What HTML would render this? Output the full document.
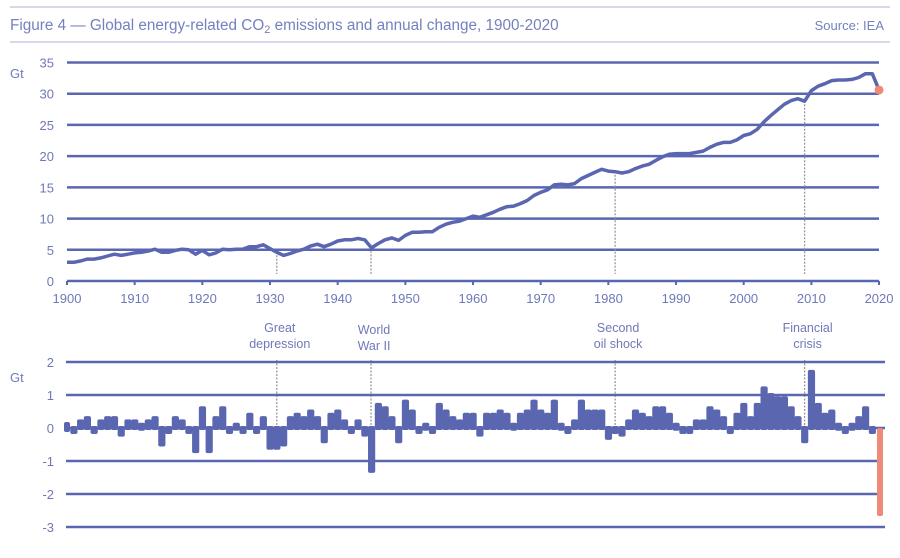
<!DOCTYPE html>
<html><head><meta charset="utf-8"><style>
body{margin:0;background:#fff;width:900px;height:553px;overflow:hidden;font-family:"Liberation Sans",sans-serif}
</style></head><body>
<svg id="s" width="900" height="553" xmlns="http://www.w3.org/2000/svg" font-family="Liberation Sans, sans-serif">
<line x1="10" y1="7" x2="890" y2="7" stroke="#c9cce4" stroke-width="1.5"/>
<line x1="10" y1="42" x2="890" y2="42" stroke="#c9cce4" stroke-width="1.5"/>
<text x="10" y="30" font-size="15.3" fill="#7480bf">Figure 4 — Global energy-related CO<tspan font-size="11" dy="3">2</tspan><tspan dy="-3"> emissions and annual change, 1900-2020</tspan></text>
<text x="884" y="30" font-size="13" fill="#7480bf" text-anchor="end">Source: IEA</text>
<g id="g"></g>
</svg>
<script>
const E=[3.0,3.0,3.2,3.5,3.5,3.7,4.0,4.3,4.1,4.3,4.5,4.6,4.8,5.1,4.6,4.6,4.9,5.1,5.0,4.3,4.9,4.2,4.5,5.1,5.0,5.1,5.1,5.5,5.5,5.8,5.2,4.6,4.1,4.4,4.8,5.1,5.6,5.9,5.5,5.9,6.4,6.6,6.6,6.8,6.6,5.3,6.0,6.6,6.9,6.5,7.3,7.8,7.8,7.9,7.9,8.6,9.1,9.4,9.6,10.0,10.4,10.2,10.6,11.0,11.5,11.9,12.0,12.4,12.9,13.7,14.2,14.6,15.4,15.5,15.4,15.6,16.4,16.9,17.4,17.9,17.6,17.5,17.3,17.5,18.0,18.4,18.7,19.3,19.9,20.3,20.4,20.4,20.4,20.6,20.8,21.4,21.9,22.2,22.2,22.6,23.3,23.6,24.3,25.5,26.5,27.4,28.3,28.9,29.2,28.8,30.5,31.2,31.6,32.1,32.2,32.2,32.3,32.6,33.2,33.2,30.6];
const C="#5a66b0",T="#7079b8";let h="";
const X=y=>67+(y-1900)*6.767, Y=v=>281-v*6.243, B=v=>428-v*33;
for(let v=0;v<=35;v+=5){h+=`<line x1="67" x2="879" y1="${Y(v)}" y2="${Y(v)}" stroke="${C}" stroke-width="2.5"/><text x="54" y="${Y(v)+5}" font-size="13" fill="${T}" text-anchor="end">${v}</text>`}
h+=`<text x="10" y="78" font-size="13" fill="${T}">Gt</text>`;
for(let y=1900;y<=2020;y+=10){h+=`<line x1="${X(y)}" x2="${X(y)}" y1="281" y2="285" stroke="${C}" stroke-width="2"/><text x="${X(y)}" y="303" font-size="13" fill="${T}" text-anchor="middle">${y}</text>`}
[[1931,"Great","depression"],[1945,"World","War II"],[1981,"Second","oil shock"],[2009,"Financial","crisis"]].forEach(([y,a,b],i)=>{const x=X(y)+(y==1945?-0.5:0);h+=`<line x1="${x}" x2="${x}" y1="${Y(E[y-1900])+3}" y2="274" stroke="#999" stroke-dasharray="2,1.5" stroke-width="1.3"/><line x1="${x}" x2="${x}" y1="360" y2="430" stroke="#999" stroke-dasharray="2,1.5" stroke-width="1.3"/><text x="${x+3}" y="${i==1?334:332}" font-size="12.5" fill="${T}" text-anchor="middle">${a}</text><text x="${x+3}" y="${i==1?350:348}" font-size="12.5" fill="${T}" text-anchor="middle">${b}</text>`});
for(let v=2;v>=-3;v--){h+=`<line x1="66" x2="${v<0&&v>-3?879:885}" y1="${B(v)}" y2="${B(v)}" stroke="${C}" stroke-width="2.5"/><text x="54" y="${B(v)+5}" font-size="13" fill="${T}" text-anchor="end">${v}</text>`}
h+=`<text x="10" y="382" font-size="13" fill="${T}">Gt</text>`;
for(let i=1;i<120;i++){let d=E[i]-E[i-1];const x=X(1900+i)-3.5;const hh=Math.max(Math.abs(d*33),4);h+=`<rect x="${x}" y="${d>=0?B(d)-2:B(0)-2}" width="7.2" height="${hh+4}" fill="${C}" rx="2"/>`}
h+=`<rect x="64" y="422" width="6" height="10" fill="${C}" rx="2"/>`;
h+=`<rect x="877" y="428" width="6" height="88" fill="#f08a78" rx="2"/>`;
let p=E.slice(0,120).map((v,i)=>`${X(1900+i).toFixed(1)},${Y(v).toFixed(1)}`).join(" ");
h+=`<polyline points="${p} ${X(2020)},${Y(30.6)}" fill="none" stroke="${C}" stroke-width="3.5" stroke-linejoin="round"/>`;
h+=`<circle cx="${X(2020)}" cy="${Y(30.6)}" r="4.5" fill="#f08a78"/>`;
document.getElementById("g").innerHTML=h;
</script>
</body></html>
